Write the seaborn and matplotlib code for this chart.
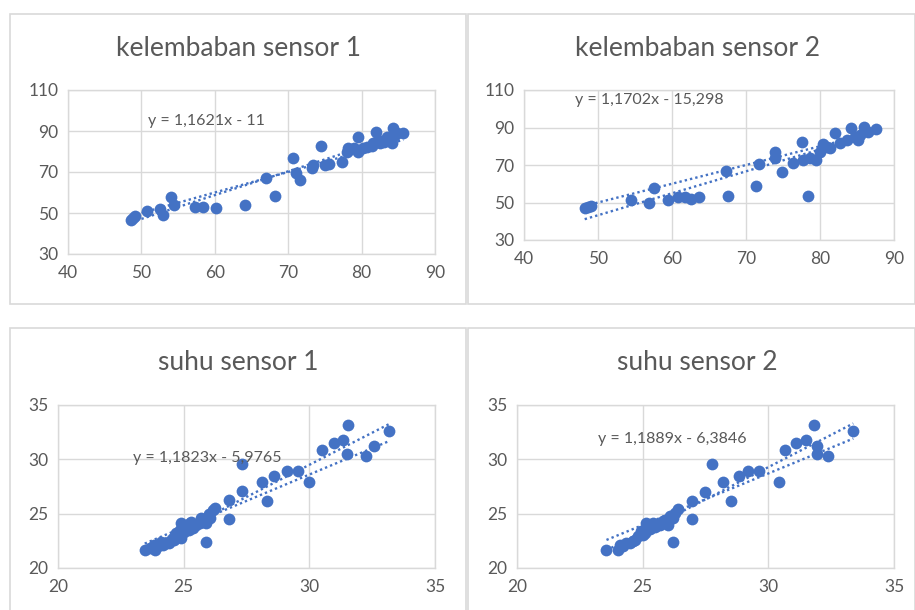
import numpy as np
import pandas as pd
import matplotlib
matplotlib.use("Agg")
import matplotlib.pyplot as plt
import seaborn as sns
from matplotlib.patches import Rectangle

# ---------------- data ----------------
titles = ["kelembaban sensor 1", "kelembaban sensor 2", "suhu sensor 1", "suhu sensor 2"]
equations = ["y = 1,1621x - 11", "y = 1,1702x - 15,298", "y = 1,1823x - 5,9765", "y = 1,1889x - 6,3846"]

trend_slope = [1.1621, 1.1702, 1.1823, 1.1889]
trend_intercept = [-11.0, -15.298, -5.9765, -6.3846]
ref_slope = [1.0, 1.0, 0.97, 0.95]
ref_intercept = [0.0, 0.0, -0.5, 0.2]

hum1_x = [48.6, 49.1, 48.9, 50.7, 52.5, 53.0, 54.1, 54.5, 57.3, 58.4, 60.1, 64.1, 67.0, 68.2,
          70.7, 71.1, 71.6, 73.2, 73.4, 74.5, 75.0, 75.5, 77.3, 78.0, 78.2, 78.9, 79.5, 79.5,
          80.2, 80.7, 81.4, 81.6, 82.0, 82.3, 82.5, 83.0, 83.4, 83.9, 84.1, 84.3, 84.5, 84.8, 85.7]
hum1_y = [46.7, 48.3, 47.5, 51.2, 51.9, 49.1, 57.7, 54.0, 52.7, 52.7, 52.4, 54.0, 67.0, 58.4,
          76.7, 69.4, 66.2, 71.9, 73.5, 82.7, 73.5, 74.0, 75.1, 80.0, 81.6, 81.6, 87.3, 80.0,
          81.6, 82.4, 82.7, 84.0, 89.7, 85.7, 84.0, 84.8, 87.3, 85.7, 84.0, 91.3, 88.1, 88.9, 88.9]

hum2_x = [48.2, 48.6, 49.1, 54.5, 56.9, 57.5, 59.5, 60.8, 61.7, 62.6, 63.7, 67.3, 67.5, 71.4,
          71.8, 73.9, 73.9, 74.8, 76.4, 77.5, 77.7, 78.4, 78.6, 79.5, 80.0, 80.4, 80.9, 81.3,
          82.0, 82.7, 83.6, 84.2, 84.7, 85.2, 85.4, 86.0, 86.5, 87.6]
hum2_y = [46.9, 47.8, 48.1, 51.3, 49.6, 57.9, 51.3, 53.1, 53.1, 51.7, 52.8, 67.0, 53.6, 58.8,
          70.4, 77.1, 73.6, 66.1, 70.9, 82.4, 72.7, 53.6, 73.6, 72.7, 77.1, 81.2, 79.8, 78.9,
          86.9, 81.6, 83.3, 89.6, 85.1, 83.3, 86.0, 90.4, 87.8, 89.0]

temp1_x = [23.45, 23.65, 23.85, 23.98, 24.18, 24.31, 24.45, 24.58, 24.71, 24.85, 24.91, 24.91,
           25.11, 25.24, 25.38, 25.64, 25.77, 25.90, 25.90, 26.04, 26.24, 26.81, 26.81, 27.34,
           27.34, 28.10, 28.30, 28.60, 29.10, 29.56, 30.00, 30.50, 31.00, 31.35, 31.55, 31.48,
           32.25, 32.57, 33.18, 23.80, 24.10, 24.40, 24.80, 25.00, 25.20, 25.50, 25.70, 26.00,
           26.15, 24.60, 25.30]
temp1_y = [21.7, 21.8, 21.7, 22.0, 22.1, 22.3, 22.5, 22.8, 23.2, 23.5, 22.8, 24.1,
           23.8, 24.1, 23.7, 24.1, 24.4, 22.4, 24.1, 24.6, 25.5, 26.3, 24.5, 27.1,
           29.6, 27.9, 26.2, 28.5, 28.9, 28.9, 27.9, 30.9, 31.5, 31.8, 33.2, 30.5,
           30.3, 31.2, 32.6, 22.1, 22.4, 22.3, 23.0, 23.3, 23.5, 24.0, 24.6, 25.0,
           25.3, 22.6, 24.2]

temp2_x = [23.56, 24.02, 24.09, 24.35, 24.62, 24.82, 24.95, 25.15, 25.22, 25.42, 25.68, 25.88,
           26.01, 26.21, 26.21, 26.41, 26.97, 26.98, 27.47, 27.74, 28.20, 28.50, 28.84, 29.20,
           29.64, 30.42, 30.66, 31.12, 31.48, 31.83, 31.92, 31.92, 32.39, 33.38, 24.20, 24.50,
           24.70, 25.00, 25.30, 25.50, 25.80, 26.10, 26.30, 25.10, 25.60]
temp2_y = [21.7, 21.7, 22.1, 22.3, 22.5, 22.9, 23.4, 24.1, 23.7, 24.1, 24.0, 24.4,
           24.0, 24.6, 22.4, 25.4, 26.2, 24.5, 27.0, 29.6, 27.9, 26.2, 28.5, 28.9,
           28.9, 27.9, 30.9, 31.5, 31.8, 33.2, 31.2, 30.5, 30.3, 32.6, 22.0, 22.3,
           22.6, 23.0, 23.6, 23.8, 24.3, 24.8, 25.1, 23.2, 24.0]

xs = [hum1_x, hum2_x, temp1_x, temp2_x]
ys = [hum1_y, hum2_y, temp1_y, temp2_y]
x_limits = [(40, 90), (40, 90), (20, 35), (20, 35)]
y_limits = [(30, 110), (30, 110), (20, 35), (20, 35)]
x_ticks = [[40, 50, 60, 70, 80, 90], [40, 50, 60, 70, 80, 90], [20, 25, 30, 35], [20, 25, 30, 35]]
y_ticks = [[30, 50, 70, 90, 110], [30, 50, 70, 90, 110], [20, 25, 30, 35], [20, 25, 30, 35]]

# ---------------- layout ----------------
W, H = 915, 610
sns.set_theme(style="white")
plt.rcParams["font.family"] = ["Lato", "DejaVu Sans"]

fig = plt.figure(figsize=(W / 100, H / 100), dpi=100)
fig.patch.set_facecolor("white")

def fx(px):
    return px / W

def fy(py):
    return 1 - py / H

# chart borders (pixel boxes: left, top, right, bottom)
borders = [(10, 14, 466, 304), (468, 14, 915, 304), (10, 328, 466, 625), (468, 328, 915, 625)]
for (l, t, r, b) in borders:
    fig.patches.append(Rectangle((fx(l), fy(b)), fx(r - l), (b - t) / H, transform=fig.transFigure,
                                 fill=False, edgecolor="#d9d9d9", lw=1.2, zorder=0))

# plot areas (left, top, right, bottom) in px
areas = [(68, 90, 435, 254), (524, 90, 894, 240), (58, 405, 435, 568), (517, 405, 894, 568)]
title_pos = [(238, 48), (698, 48), (238, 363), (697, 363)]
eq_pos = [(148, 121), (575, 100), (133, 458), (598, 439)]

blue = "#4472C4"
grey_text = "#595959"

for i in range(4):
    l, t, r, b = areas[i]
    ax = fig.add_axes([fx(l), fy(b), (r - l) / W, (b - t) / H])
    df = pd.DataFrame({"x": xs[i], "y": ys[i]})
    sns.scatterplot(data=df, x="x", y="y", ax=ax, color=blue, s=72, edgecolor=blue,
                    linewidth=0, zorder=3)
    xmin, xmax = min(xs[i]), max(xs[i])
    line_x = np.array([xmin, xmax])
    ax.plot(line_x, trend_slope[i] * line_x + trend_intercept[i], color=blue,
            linestyle=(0, (1, 1.3)), lw=1.7, zorder=4)
    ax.plot(line_x, ref_slope[i] * line_x + ref_intercept[i], color=blue,
            linestyle=(0, (1, 1.3)), lw=1.7, zorder=4)
    ax.set_xlim(*x_limits[i])
    ax.set_ylim(*y_limits[i])
    ax.set_xticks(x_ticks[i])
    ax.set_yticks(y_ticks[i])
    ax.set_xlabel("")
    ax.set_ylabel("")
    ax.grid(True, color="#d9d9d9", lw=1)
    ax.set_axisbelow(True)
    for s in ax.spines.values():
        s.set_color("#d9d9d9")
        s.set_linewidth(1)
    ax.tick_params(axis="both", length=0, labelsize=12.5, labelcolor=grey_text)
    ax.tick_params(axis="x", pad=8)
    ax.tick_params(axis="y", pad=7)
    tx, ty = title_pos[i]
    fig.text(fx(tx), fy(ty), titles[i], ha="center", va="center", fontsize=19,
             color=grey_text)
    ex, ey = eq_pos[i]
    fig.text(fx(ex), fy(ey), equations[i], ha="left", va="center", fontsize=11.5, color=grey_text,
             zorder=5)

fig.savefig("out.png", dpi=100, facecolor="white")
